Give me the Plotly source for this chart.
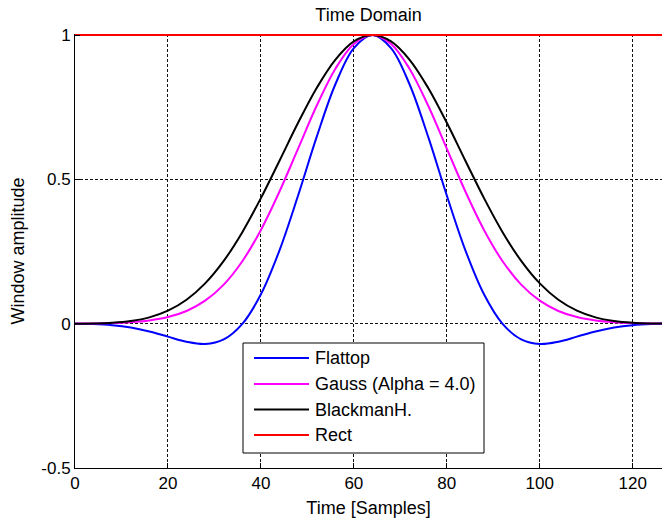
import plotly.graph_objects as go

# ---------------- data ----------------
samples = [0, 4, 8, 12, 16, 20, 24, 28, 32, 36, 40, 44, 48, 52, 56, 60, 64,
           68, 72, 76, 80, 84, 88, 92, 96, 100, 104, 108, 112, 116, 120, 124, 128]

flattop = [-0.0004, -0.0015, -0.0053, -0.0133, -0.0269, -0.0449, -0.0627, -0.0705,
           -0.0547, -0.0008, 0.1018, 0.2541, 0.4441, 0.6469, 0.8285, 0.9548, 1.0,
           0.9548, 0.8285, 0.6469, 0.4441, 0.2541, 0.1018, -0.0008, -0.0547,
           -0.0705, -0.0627, -0.0449, -0.0269, -0.0133, -0.0053, -0.0015, -0.0004]

gauss = [0.0003, 0.0009, 0.0022, 0.0051, 0.0111, 0.0228, 0.0439, 0.0796,
         0.1353, 0.2163, 0.3247, 0.4578, 0.6065, 0.7548, 0.8825, 0.9692, 1.0,
         0.9692, 0.8825, 0.7548, 0.6065, 0.4578, 0.3247, 0.2163, 0.1353,
         0.0796, 0.0439, 0.0228, 0.0111, 0.0051, 0.0022, 0.0009, 0.0003]

blackman_harris = [0.0001, 0.0007, 0.0031, 0.0091, 0.0217, 0.0449, 0.0828, 0.1395,
                   0.2175, 0.3170, 0.4349, 0.5645, 0.6958, 0.8165, 0.9142, 0.9779, 1.0,
                   0.9779, 0.9142, 0.8165, 0.6958, 0.5645, 0.4349, 0.3170, 0.2175,
                   0.1395, 0.0828, 0.0449, 0.0217, 0.0091, 0.0031, 0.0007, 0.0001]

rect_x = [0, 128]
rect = [1, 1]

series_names = ["Flattop", "Gauss (Alpha = 4.0)", "BlackmanH.", "Rect"]
series_colors = ["#0000ff", "#ff00ff", "#000000", "#ff0000"]

x_ticks = [0, 20, 40, 60, 80, 100, 120]
y_ticks = [-0.5, 0, 0.5, 1]
y_tick_labels = ["-0.5", "0", "0.5", "1"]

# ---------------- layout constants ----------------
W, H = 662, 520
L, R, T, B = 75, 0, 34, 52
FONT = "Liberation Sans, Arial, sans-serif"
FS = 18      # titles / legend
TFS = 17     # tick labels

fig = go.Figure()
xs = [samples, samples, samples, rect_x]
ys = [flattop, gauss, blackman_harris, rect]
for name, xv, yv, col in zip(series_names, xs, ys, series_colors):
    fig.add_trace(go.Scatter(x=xv, y=yv, name=name, mode="lines",
                             line=dict(color=col, width=2, shape="spline"),
                             showlegend=False))

# manual MATLAB-like legend
pw = W - L - R
ph = H - T - B
def px2x(px):
    return (px - L) / pw
def py2y(py):
    return (H - B - py) / ph

shapes = [dict(type="rect", xref="paper", yref="paper",
               x0=px2x(243), x1=px2x(484), y0=py2y(453), y1=py2y(343),
               fillcolor="white", line=dict(color="black", width=1), layer="above")]
annotations = []
entry_y = [358, 384, 409.5, 435]
for name, col, ey in zip(series_names, series_colors, entry_y):
    shapes.append(dict(type="line", xref="paper", yref="paper",
                       x0=px2x(254), x1=px2x(309), y0=py2y(ey), y1=py2y(ey),
                       line=dict(color=col, width=2), layer="above"))
    annotations.append(dict(xref="paper", yref="paper", x=px2x(313), y=py2y(ey),
                            text=name, showarrow=False, xanchor="left", yanchor="middle",
                            font=dict(family=FONT, size=FS, color="black")))

axis_common = dict(showline=True, linecolor="black", linewidth=1,
                   ticks="inside", ticklen=5, tickcolor="black", tickwidth=1,
                   showgrid=True, gridcolor="#111111", gridwidth=1, griddash="3px,2px",
                   zeroline=False, mirror=False,
                   tickfont=dict(family=FONT, size=TFS, color="black"))

fig.update_layout(
    width=W, height=H,
    margin=dict(l=L, r=R, t=T, b=B, pad=0),
    paper_bgcolor="white", plot_bgcolor="white",
    font=dict(family=FONT, size=FS, color="black"),
    title=dict(text="Time Domain", x=(L + pw / 2) / W, xanchor="center",
               y=1 - 15 / H, yanchor="middle", yref="container",
               font=dict(family=FONT, size=FS, color="black")),
    xaxis=dict(range=[0, 126.3], tickvals=x_ticks,
               ticktext=[str(v) for v in x_ticks],
               title=dict(text="Time [Samples]", standoff=8,
                          font=dict(family=FONT, size=FS)),
               **axis_common),
    yaxis=dict(range=[-0.5, 1.0035], tickvals=y_ticks, ticktext=y_tick_labels,
               title=dict(text="Window amplitude", standoff=12,
                          font=dict(family=FONT, size=FS)),
               **axis_common),
    shapes=shapes,
    annotations=annotations,
    showlegend=False,
)

fig.write_html("out.html")
